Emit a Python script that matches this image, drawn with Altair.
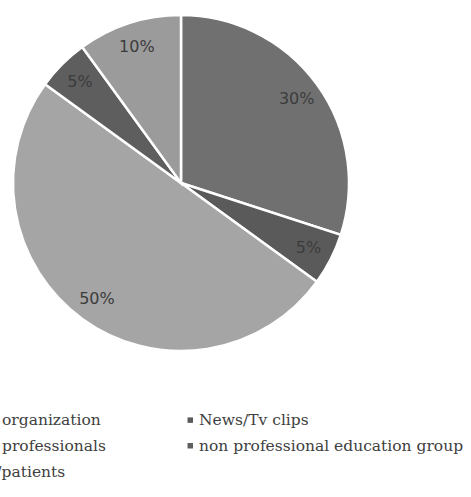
import altair as alt
import pandas as pd

names = ["Health organization", "News/Tv clips", "Health professionals",
         "non professional education group", "Family/patients"]
values = [30, 5, 50, 5, 10]
labels = ["30%", "5%", "50%", "5%", "10%"]
colors = ["#707070", "#5a5a5a", "#a5a5a5", "#5e5e5e", "#9b9b9b"]

# legend is filled column by column: left column first, then right column
legend_order = [0, 2, 4, 1, 3]
legend_names = [names[i] for i in legend_order]
legend_colors = [colors[i] for i in legend_order]

df = pd.DataFrame({"name": names, "value": values, "label": labels,
                   "idx": list(range(len(names)))})

base = alt.Chart(df).encode(
    theta=alt.Theta("value:Q", stack=True),
    order=alt.Order("idx:Q"),
    x=alt.value(181),
    y=alt.value(183),
)

arcs = base.mark_arc(outerRadius=168, stroke="white", strokeWidth=2.5).encode(
    color=alt.Color(
        "name:N",
        sort=legend_names,
        scale=alt.Scale(domain=legend_names, range=legend_colors),
        legend=alt.Legend(
            title=None,
            orient="none",
            legendX=-72.5,
            legendY=412,
            columns=2,
            gridAlign="each",
            symbolType="square",
            symbolSize=30,
            symbolStrokeWidth=0,
            labelFont="DejaVu Serif",
            labelFontSize=15.5,
            labelColor="#404040",
            labelLimit=400,
            labelOffset=1,
            rowPadding=9,
            columnPadding=76,
        ),
    )
)

text = base.mark_text(radius=143, font="DejaVu Sans", fontSize=16,
                      color="#3c3c3c").encode(
    text="label:N",
    detail="name:N",
)

chart = (arcs + text).properties(
    width=471, height=497,
    autosize=alt.AutoSizeParams(type="none"),
    padding=0,
).configure_view(stroke=None)

chart.save("out.html", embed_options={"renderer": "svg", "actions": False})
